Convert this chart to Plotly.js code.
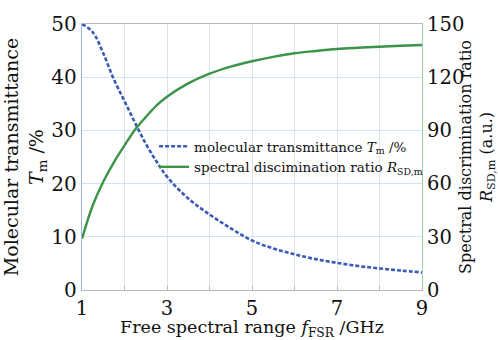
<!DOCTYPE html>
<html>
<head>
<meta charset="utf-8">
<script src="https://cdn.plot.ly/plotly-3.0.1.min.js"></script>
<style>html,body{margin:0;padding:0;background:#fff;}#chart{width:498px;height:340px;}</style>
</head>
<body>
<div id="chart"></div>
<script>
// Free spectral range (GHz)
const fsr = [1, 1.25, 1.5, 1.75, 2, 2.25, 2.5, 2.75, 3, 3.5, 4, 4.5, 5, 5.5, 6, 6.5, 7, 7.5, 8, 8.5, 9];
// Molecular transmittance T_m (%)
const transmittance = [50, 48.5, 44.5, 39.6, 35.5, 31.4, 27.5, 24.2, 21.3, 17.2, 14.2, 11.6, 9.3, 7.8, 6.7, 5.8, 5.1, 4.5, 4.05, 3.65, 3.3];
// Spectral discrimination ratio R_SD,m (a.u.)
const discrimination = [29, 47.5, 61, 72, 81.5, 90.5, 97.5, 104, 109, 116.5, 122, 126, 129, 131.5, 133.5, 134.8, 135.9, 136.6, 137.2, 137.7, 138.2];
const xTickVals = [1, 2, 3, 4, 5, 6, 7, 8, 9];
const xTickText = ['1', '', '3', '', '5', '', '7', '', '9'];
const yLeftTicks = [0, 10, 20, 30, 40, 50];
const yRightTicks = [0, 30, 60, 90, 120, 150];

const FONT = 'DejaVu Serif';
const traces = [
  {x: fsr, y: transmittance, type: 'scatter', mode: 'lines', yaxis: 'y',
   name: 'molecular transmittance <i>T</i><sub>m</sub> /%',
   line: {color: '#3a5cb5', width: 2.6, dash: '4px,2px', shape: 'spline'}},
  {x: fsr, y: discrimination, type: 'scatter', mode: 'lines', yaxis: 'y2',
   name: 'spectral discimination ratio <i>R</i><sub>SD,m</sub>',
   line: {color: '#3b9448', width: 2.4, shape: 'spline'}}
];
const layout = {
  width: 498, height: 340,
  margin: {l: 82, r: 76, t: 24, b: 50},
  paper_bgcolor: '#fff', plot_bgcolor: '#fff',
  font: {family: FONT, size: 18, color: '#111'},
  showlegend: true,
  legend: {x: 0.212, xanchor: 'left', y: 0.5, yanchor: 'middle', bgcolor: 'rgba(255,255,255,0)',
           borderwidth: 0, font: {family: FONT, size: 13.5, color: '#111'},
           itemwidth: 30, tracegroupgap: 0},
  // white legend panel: above gridlines, below curves
  shapes: [{type: 'rect', xref: 'paper', yref: 'paper', x0: 0.254, x1: 1, y0: 0.406, y1: 0.6,
            fillcolor: '#fff', line: {width: 0}, layer: 'between'}],
  xaxis: {range: [1, 9], tickvals: xTickVals, ticktext: xTickText,
          showgrid: true, gridcolor: '#dde3ec', gridwidth: 1,
          showline: true, linecolor: '#b8b8b8', linewidth: 1.2, mirror: true,
          ticks: 'inside', ticklen: 4, tickcolor: '#b8b8b8',
          tickfont: {family: FONT, size: 19.5, color: '#111'},
          zeroline: false, automargin: false,
          title: {text: 'Free spectral range <i>f</i><sub>FSR</sub> /GHz', font: {family: FONT, size: 17.5, color: '#111'}, standoff: 0}},
  yaxis: {range: [0, 50], tickvals: yLeftTicks,
          showgrid: true, gridcolor: '#d3e2f7', gridwidth: 1,
          showline: true, linecolor: '#9db5e6', linewidth: 1.2,
          ticks: '', tickfont: {family: FONT, size: 20, color: '#111'},
          zeroline: false, automargin: false,
          title: {text: 'Molecular transmittance<br><i>T</i><sub>m</sub> /%', font: {family: FONT, size: 19, color: '#111'}, standoff: 4}},
  yaxis2: {range: [0, 150], tickvals: yRightTicks, overlaying: 'y', side: 'right',
          showgrid: false, showline: true, linecolor: '#9fd8a4', linewidth: 1.2,
          ticks: '', tickfont: {family: FONT, size: 19.5, color: '#111'},
          zeroline: false, automargin: false,
          title: {text: 'Spectral discrimination ratio<br><i>R</i><sub>SD,m</sub> (a.u.)', font: {family: FONT, size: 16, color: '#111'}, standoff: 10}}
};
Plotly.newPlot('chart', traces, layout, {displayModeBar: false, staticPlot: true});
</script>
</body>
</html>
